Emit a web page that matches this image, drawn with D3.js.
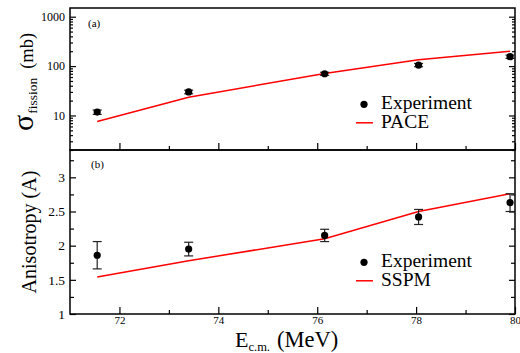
<!DOCTYPE html>
<html><head><meta charset="utf-8">
<script src="https://cdn.jsdelivr.net/npm/d3@7"></script>
<style>
body{margin:0;background:#fff;}
svg{display:block;}
svg text{font-family:"Liberation Serif","Times New Roman",serif;}
</style></head>
<body><svg id="c" width="520" height="353"></svg>
<script>
// ---- data ----
const energies = [71.55, 73.4, 76.15, 78.05, 79.9];
const sigmaExp = [11.7, 30, 70, 105, 155];
const sigmaErr = [1.2, 2.5, 5, 8, 12];
const paceE = [71.55, 73.4, 76.15, 78.05, 79.9];
const paceSigma = [7.55, 23.3, 71, 134, 199];
const anisoExp = [1.86, 1.95, 2.15, 2.42, 2.63];
const anisoErr = [0.2, 0.1, 0.09, 0.11, 0.13];
const sspmE = [71.55, 73.4, 76.15, 78.05, 79.9];
const sspmA = [1.54, 1.78, 2.10, 2.50, 2.76];
const xMajor = [72, 74, 76, 78, 80];
const xMinor = [73, 75, 77, 79];
const logMajor = [10, 100, 1000];
const aniTicks = [1, 1.5, 2, 2.5, 3];
const aniMinor = [1.25, 1.75, 2.25, 2.75, 3.25];

const SERIF = '"Liberation Serif","Times New Roman",serif';
const svg = d3.select("#c");
const L = 70, R = 515, T = 8, M = 150, B = 314;
const x = d3.scaleLinear().domain([71, 80]).range([L, R]);
const yT = d3.scaleLog().domain([2, 1500]).range([M, T]);
const yB = d3.scaleLinear().domain([1, 3.4]).range([B, M]);

const logMinor = [];
[1, 10, 100, 1000].forEach(d => { for (let k = 2; k <= 9; k++) { const v = d * k; if (v >= 2 && v <= 1500) logMinor.push(v); } });

function styleAxis(g, fs) {
  g.attr("font-family", SERIF);
  g.select(".domain").remove();
  g.selectAll("line").attr("stroke", "#000").attr("stroke-width", 1.2);
  g.selectAll("text").attr("fill", "#000").attr("font-family", SERIF).attr("font-size", fs);
}
function txt(sel) { return sel.append("text").attr("font-family", SERIF).attr("fill", "#000"); }

// Top panel axes
svg.append("g").attr("transform", `translate(${L},0)`)
  .call(d3.axisLeft(yT).tickValues(logMajor).tickFormat(d3.format("d")).tickSize(-6).tickPadding(5))
  .call(g => styleAxis(g, 12));
svg.append("g").attr("transform", `translate(${L},0)`)
  .call(d3.axisLeft(yT).tickValues(logMinor).tickFormat("").tickSize(-3))
  .call(g => styleAxis(g, 12));
svg.append("g").attr("transform", `translate(${R},0)`)
  .call(d3.axisRight(yT).tickValues(logMajor).tickFormat("").tickSize(-6))
  .call(g => styleAxis(g, 12));
svg.append("g").attr("transform", `translate(${R},0)`)
  .call(d3.axisRight(yT).tickValues(logMinor).tickFormat("").tickSize(-3))
  .call(g => styleAxis(g, 12));
svg.append("g").attr("transform", `translate(0,${M})`)
  .call(d3.axisBottom(x).tickValues(xMajor).tickFormat("").tickSize(-7))
  .call(g => styleAxis(g, 11));
svg.append("g").attr("transform", `translate(0,${M})`)
  .call(d3.axisBottom(x).tickValues(xMinor).tickFormat("").tickSize(-4))
  .call(g => styleAxis(g, 11));

// Bottom panel axes
svg.append("g").attr("transform", `translate(${L},0)`)
  .call(d3.axisLeft(yB).tickValues(aniTicks).tickFormat(d3.format("")).tickSize(-6).tickPadding(5))
  .call(g => styleAxis(g, 13.5));
svg.append("g").attr("transform", `translate(${L},0)`)
  .call(d3.axisLeft(yB).tickValues(aniMinor).tickFormat("").tickSize(-4))
  .call(g => styleAxis(g, 13));
svg.append("g").attr("transform", `translate(${R},0)`)
  .call(d3.axisRight(yB).tickValues(aniTicks).tickFormat("").tickSize(-6))
  .call(g => styleAxis(g, 13));
svg.append("g").attr("transform", `translate(${R},0)`)
  .call(d3.axisRight(yB).tickValues(aniMinor).tickFormat("").tickSize(-4))
  .call(g => styleAxis(g, 13));
svg.append("g").attr("transform", `translate(0,${B})`)
  .call(d3.axisBottom(x).tickValues(xMajor).tickFormat(d3.format("d")).tickSize(-7).tickPadding(2))
  .call(g => styleAxis(g, 11));
svg.append("g").attr("transform", `translate(0,${B})`)
  .call(d3.axisBottom(x).tickValues(xMinor).tickFormat("").tickSize(-4))
  .call(g => styleAxis(g, 11));

// frames
svg.append("rect").attr("x", L).attr("y", T).attr("width", R - L).attr("height", M - T)
  .attr("fill", "none").attr("stroke", "#000").attr("stroke-width", 1.5);
svg.append("rect").attr("x", L).attr("y", M).attr("width", R - L).attr("height", B - M)
  .attr("fill", "none").attr("stroke", "#000").attr("stroke-width", 1.5);

// lines
const lineT = d3.line().x((d, i) => x(paceE[i])).y(d => yT(d));
svg.append("path").datum(paceSigma).attr("d", lineT).attr("fill", "none").attr("stroke", "#ff0000").attr("stroke-width", 1.5);
const lineB = d3.line().x((d, i) => x(sspmE[i])).y(d => yB(d));
svg.append("path").datum(sspmA).attr("d", lineB).attr("fill", "none").attr("stroke", "#ff0000").attr("stroke-width", 1.5);

// error bars + points
function errPoints(ys, vals, errs, cap) {
  const g = svg.append("g");
  energies.forEach((e, i) => {
    const cx = x(e), y1 = ys(vals[i] + errs[i]), y0 = ys(vals[i] - errs[i]);
    g.append("line").attr("x1", cx).attr("x2", cx).attr("y1", y0).attr("y2", y1).attr("stroke", "#222").attr("stroke-width", 1.2);
    [y0, y1].forEach(yy => g.append("line").attr("x1", cx - cap).attr("x2", cx + cap).attr("y1", yy).attr("y2", yy).attr("stroke", "#222").attr("stroke-width", 1.2));
    g.append("circle").attr("cx", cx).attr("cy", ys(vals[i])).attr("r", 3.6).attr("fill", "#000");
  });
}
errPoints(yT, sigmaExp, sigmaErr, 4.5);
errPoints(yB, anisoExp, anisoErr, 4.5);

// panel labels
txt(svg).attr("x", 88).attr("y", 27).attr("font-size", 11).text("(a)");
txt(svg).attr("x", 91).attr("y", 168).attr("font-size", 11).text("(b)");

// legends
function legend(y0, label) {
  svg.append("circle").attr("cx", 364).attr("cy", y0).attr("r", 3.6).attr("fill", "#000");
  txt(svg).attr("x", 381).attr("y", y0 + 5).attr("font-size", 19.5).text("Experiment");
  svg.append("line").attr("x1", 356).attr("x2", 373).attr("y1", y0 + 18.5).attr("y2", y0 + 18.5).attr("stroke", "#ff0000").attr("stroke-width", 1.5);
  txt(svg).attr("x", 381).attr("y", y0 + 24).attr("font-size", 19.5).text(label);
}
legend(104.3, "PACE");
legend(262.3, "SSPM");

// axis titles
const yl = txt(svg).attr("transform", "translate(33,131) rotate(-90)");
yl.append("tspan").attr("font-size", 30).text("σ");
yl.append("tspan").attr("font-size", 13.5).attr("dy", 4).attr("dx", 1).text("fission");
yl.append("tspan").attr("font-size", 18.5).attr("dy", -4).attr("dx", 9).text("(mb)");

txt(svg).attr("transform", "translate(36,232) rotate(-90)").attr("text-anchor", "middle")
  .attr("font-size", 20).text("Anisotropy (A)");

const xl = txt(svg).attr("x", 235).attr("y", 346.5);
xl.append("tspan").attr("font-size", 22).text("E");
xl.append("tspan").attr("font-size", 12.5).attr("dy", 4.5).text("c.m.");
xl.append("tspan").attr("font-size", 22.5).attr("dy", -4.5).attr("dx", 7).text("(MeV)");
</script></body></html>
